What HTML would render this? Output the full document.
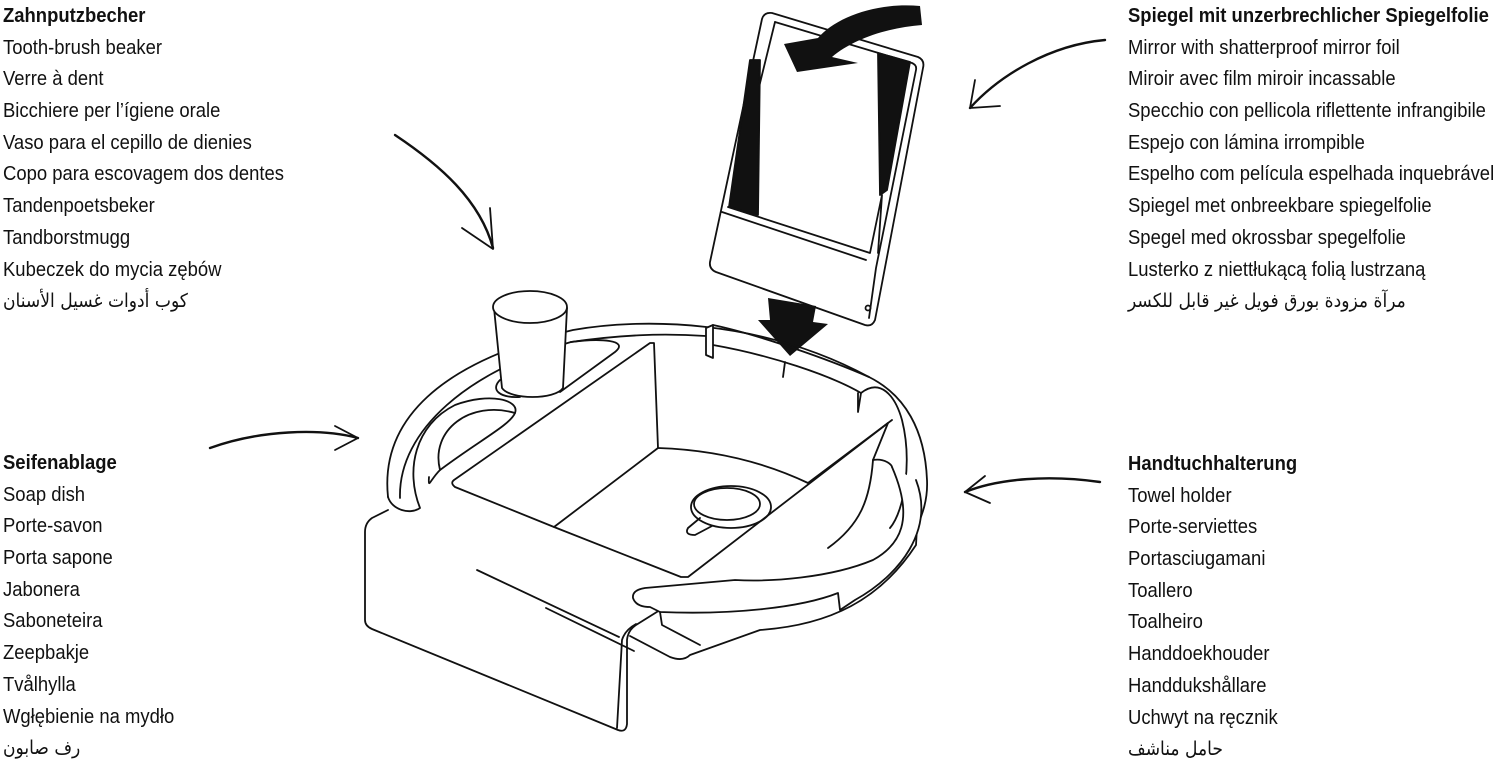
<!DOCTYPE html>
<html><head><meta charset="utf-8"><style>
html,body{margin:0;padding:0;background:#fff;}
body{width:1500px;height:763px;position:relative;overflow:hidden;font-family:"Liberation Sans","Noto Sans CJK SC",sans-serif;color:#111;}
.b{position:absolute;font-size:20.5px;line-height:31.7px;white-space:nowrap;transform:scaleX(0.9);transform-origin:0 0;}
.b div{height:31.7px;}
.h{font-weight:bold;}
.ar{font-family:"DejaVu Sans",sans-serif;font-size:19px;}
svg{position:absolute;left:0;top:0;}
</style></head><body>
<svg width="1500" height="763" viewBox="0 0 1500 763" fill="none" stroke="#111" stroke-width="1.8" stroke-linejoin="round" stroke-linecap="round">
<path d="M395,135 C440,165 480,200 493,248" stroke-width="2.4"/>
<path d="M462,228 L493,249 L490,208"/>
<path d="M210,448 C260,430 320,428 358,438" stroke-width="2.4"/>
<path d="M335,426 L358,438 L335,450"/>
<path d="M1105,40 C1050,45 1000,75 970,108" stroke-width="2.4"/>
<path d="M975,80 L970,108 L1000,106"/>
<path d="M1100,482 C1050,475 1000,478 965,492" stroke-width="2.4"/>
<path d="M985,476 L965,492 L990,503"/>
<path d="M772,13 L918,57 Q925,60 923,68 L875,320 Q872,327 865,325 L716,272 Q709,269 710,262 L762,19 Q764,12 772,13 Z" fill="#fff"/>
<path d="M775,22 L912,63 Q917,65 916,70 L878,258 L876,268 L869,318"/>
<path d="M775,22 L730,205"/>
<path d="M728,207 L870,253 L882,195 L878,253"/>
<path d="M722,212 L866,260"/>
<polygon points="750,60 760,60 758,215 729,207" fill="#111"/>
<polygon points="878,53 910,62 887,190 880,195" fill="#111"/>
<circle cx="868" cy="308" r="2.5"/>
<path d="M920,6 C875,2 835,18 818,38 L784,44 L797,72 L858,63 L832,57 C852,40 885,28 922,25 Z" fill="#111" stroke="none"/>
<polygon points="768,298 816,306 813,322 828,324 790,356 758,320 770,320" fill="#111" stroke="none"/>
<path d="M388,497 C380,420 440,362 573,330 C640,318 760,318 869,377 C905,395 925,430 927,480 C928,500 922,515 917,527 L916,545 C880,600 830,625 760,630 L690,655 C685,660 678,660 670,657 L630,636"/>
<path d="M400,498 C398,430 470,370 571,342"/>
<path d="M571,342 C620,335 660,333 706,336"/>
<path d="M713,345 C770,355 830,375 861,393 L858,412 L858,393"/>
<path d="M861,393 C880,378 895,395 902,420 C912,460 905,510 890,528"/>
<path d="M706,328 L713,325 L713,358 L706,355 Z" fill="#fff"/>
<path d="M713,325 C760,335 830,360 869,377"/>
<path d="M785,362 L783,377"/>
<path d="M388,497 C392,510 410,515 420,508 C405,470 415,425 455,405 C490,392 520,400 515,413 C510,425 480,440 440,470 C430,480 428,490 429,477"/>
<path d="M440,470 C430,430 470,400 515,413"/>
<path d="M571,342 C600,338 630,340 615,352 L560,392"/>
<path d="M500,380 C490,390 500,398 520,397"/>
<path d="M454,480 L650,343 L654,343 L658,448 L554,527 L455,487 Q450,483 454,480 Z" fill="#fff"/>
<path d="M658,448 C720,450 770,465 808,483"/>
<path d="M554,527 L681,577 L688,577 L888,423"/>
<path d="M808,483 L892,420"/>
<ellipse cx="731" cy="507" rx="40" ry="21"/>
<ellipse cx="727" cy="504" rx="33" ry="16"/>
<path d="M700,518 L688,528 Q684,535 695,535 L712,526"/>
<path d="M494,308 L502,388 C510,400 555,400 563,388 L567,308" fill="#fff"/>
<ellipse cx="530" cy="307" rx="37" ry="16" fill="#fff"/>
<path d="M388,510 L372,518 Q365,523 365,532 L365,620 Q365,626 372,629 L618,730 Q626,733 627,724 L627,640 Q628,630 636,625 L660,610" fill="#fff"/>
<path d="M617,728 L622,640 Q625,630 636,624"/>
<path d="M477,570 L619,637"/>
<path d="M546,608 L634,651"/>
<path d="M892,467 C915,520 900,545 873,560 C830,578 770,582 735,580 L645,588 Q632,590 633,598 Q636,607 650,607 L660,612 C730,615 800,608 838,593 L840,610 L855,600 C900,575 935,530 916,480" fill="#fff"/>
<path d="M873,460 C885,458 892,465 892,467"/>
<path d="M873,460 L888,423"/>
<path d="M873,460 C870,500 860,525 828,548"/>
<path d="M660,612 L662,625 L700,645"/>
</svg>

<div class="b" style="left:3px;top:0px;">
<div class="h">Zahnputzbecher</div>
<div>Tooth-brush beaker</div>
<div>Verre à dent</div>
<div>Bicchiere per l’ígiene orale</div>
<div>Vaso para el cepillo de dienies</div>
<div>Copo para escovagem dos dentes</div>
<div>Tandenpoetsbeker</div>
<div>Tandborstmugg</div>
<div>Kubeczek do mycia zębów</div>
<div class="ar" dir="rtl" style="display:inline-block">كوب أدوات غسيل الأسنان</div>
</div>

<div class="b" style="left:3px;top:447px;">
<div class="h">Seifenablage</div>
<div>Soap dish</div>
<div>Porte-savon</div>
<div>Porta sapone</div>
<div>Jabonera</div>
<div>Saboneteira</div>
<div>Zeepbakje</div>
<div>Tvålhylla</div>
<div>Wgłębienie na mydło</div>
<div class="ar" dir="rtl" style="display:inline-block">رف صابون</div>
</div>

<div class="b" style="left:1128px;top:0px;">
<div class="h">Spiegel mit unzerbrechlicher Spiegelfolie</div>
<div>Mirror with shatterproof mirror foil</div>
<div>Miroir avec film miroir incassable</div>
<div>Specchio con pellicola riflettente infrangibile</div>
<div>Espejo con lámina irrompible</div>
<div>Espelho com película espelhada inquebrável</div>
<div>Spiegel met onbreekbare spiegelfolie</div>
<div>Spegel med okrossbar spegelfolie</div>
<div>Lusterko z niettłukącą folią lustrzaną</div>
<div class="ar" dir="rtl" style="display:inline-block">مرآة مزودة بورق فويل غير قابل للكسر</div>
</div>

<div class="b" style="left:1128px;top:448px;">
<div class="h">Handtuchhalterung</div>
<div>Towel holder</div>
<div>Porte-serviettes</div>
<div>Portasciugamani</div>
<div>Toallero</div>
<div>Toalheiro</div>
<div>Handdoekhouder</div>
<div>Handdukshållare</div>
<div>Uchwyt na ręcznik</div>
<div class="ar" dir="rtl" style="display:inline-block">حامل مناشف</div>
</div>
</body></html>
